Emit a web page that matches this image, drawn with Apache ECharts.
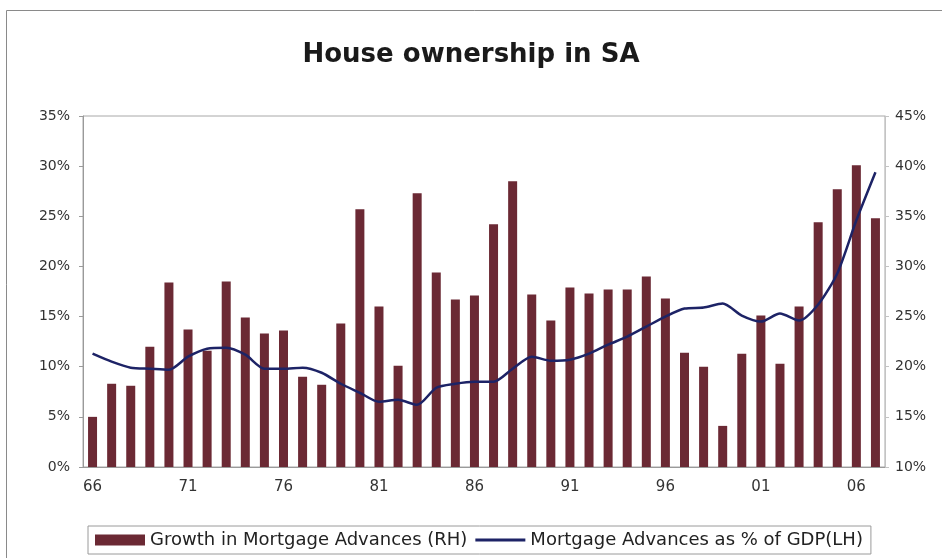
<!DOCTYPE html>
<html>
<head>
<meta charset="utf-8">
<title>House ownership in SA</title>
<script src="https://cdn.jsdelivr.net/npm/echarts@6/dist/echarts.min.js"></script>
<style>
  html, body { margin: 0; padding: 0; background: #fff; }
  #chart { width: 942px; height: 558px; }
</style>
</head>
<body>
<div id="chart"></div>
<script>
// Years 1966-2007, shown as two-digit labels
const years = ['66','67','68','69','70','71','72','73','74','75','76','77','78','79','80','81','82','83','84','85','86','87','88','89','90','91','92','93','94','95','96','97','98','99','00','01','02','03','04','05','06','07'];

// Annual growth in mortgage advances, %
const growthAdvances = [5.0, 8.3, 8.1, 12.0, 18.4, 13.7, 11.6, 18.5, 14.9, 13.3, 13.6, 9.0, 8.2, 14.3, 25.7, 16.0, 10.1, 27.3, 19.4, 16.7, 17.1, 24.2, 28.5, 17.2, 14.6, 17.9, 17.3, 17.7, 17.7, 19.0, 16.8, 11.4, 10.0, 4.1, 11.3, 15.1, 10.3, 16.0, 24.4, 27.7, 30.1, 24.8];

// Mortgage advances as a share of GDP, %
const advancesGdp = [21.3, 20.5, 19.9, 19.8, 19.7, 21.0, 21.8, 21.9, 21.2, 19.8, 19.8, 19.9, 19.4, 18.3, 17.4, 16.5, 16.7, 16.2, 17.9, 18.3, 18.5, 18.5, 19.8, 21.0, 20.6, 20.7, 21.3, 22.2, 23.0, 24.0, 25.0, 25.8, 25.9, 26.3, 25.1, 24.5, 25.3, 24.6, 26.2, 29.3, 34.6, 39.4];

const leftTicks = { min: 0, max: 35, step: 5 };
const rightTicks = { min: 10, max: 45, step: 5 };

const seriesNames = ['Growth in Mortgage Advances (RH)', 'Mortgage Advances as % of GDP(LH)'];

const chart = echarts.init(document.getElementById('chart'), null, { renderer: 'canvas' });

const FONT = 'DejaVu Sans, Liberation Sans, Arial, sans-serif';
const labelFont = { fontFamily: FONT, color: '#333' };

chart.setOption({
  animation: false,
  backgroundColor: '#fff',
  title: {
    text: 'House ownership in SA',
    left: 'center',
    top: 37,
    textStyle: { fontFamily: FONT, fontSize: 26, fontWeight: 'bold', color: '#1a1a1a' }
  },
  graphic: [
    {
      type: 'rect',
      shape: { x: 6.5, y: 10.5, width: 960, height: 560 },
      style: { fill: 'none', stroke: '#8a8a8a', lineWidth: 1 },
      silent: true
    }
  ],
  legend: {
    left: 88,
    top: 526,
    padding: [5, 8, 5, 7],
    borderColor: '#9a9a9a',
    borderWidth: 1,
    itemGap: 8,
    itemWidth: 50,
    itemHeight: 11,
    textStyle: { fontFamily: FONT, fontSize: 18, color: '#222' },
    data: [
      { name: seriesNames[0], icon: 'rect' },
      { name: seriesNames[1], icon: 'path://M0,0 L50,0 L50,3 L0,3 Z' }
    ]
  },
  grid: {
    left: 83,
    right: 57,
    top: 116,
    bottom: 91,
    show: true,
    borderColor: '#a8a8a8',
    borderWidth: 1,
    containLabel: false
  },
  xAxis: {
    type: 'category',
    data: years,
    boundaryGap: true,
    axisLine: { lineStyle: { color: '#9a9a9a' } },
    axisTick: { interval: 4, length: 4, lineStyle: { color: '#9a9a9a' } },
    axisLabel: Object.assign({ interval: 4, fontSize: 15, margin: 13 }, labelFont)
  },
  yAxis: [
    {
      type: 'value',
      min: leftTicks.min,
      max: leftTicks.max,
      interval: leftTicks.step,
      axisLine: { show: true, lineStyle: { color: '#9a9a9a' } },
      axisTick: { show: true, length: 4, lineStyle: { color: '#9a9a9a' } },
      splitLine: { show: false },
      axisLabel: Object.assign({ formatter: '{value}%', fontSize: 14, margin: 13 }, labelFont)
    },
    {
      type: 'value',
      min: rightTicks.min,
      max: rightTicks.max,
      interval: rightTicks.step,
      position: 'right',
      axisLine: { show: true, lineStyle: { color: '#c4c4c4' } },
      axisTick: { show: true, length: 4, lineStyle: { color: '#c4c4c4' } },
      splitLine: { show: false },
      axisLabel: Object.assign({ formatter: '{value}%', fontSize: 14, margin: 10 }, labelFont)
    }
  ],
  series: [
    {
      name: seriesNames[0],
      type: 'bar',
      yAxisIndex: 0,
      data: growthAdvances,
      barWidth: 9,
      itemStyle: { color: '#6b2934' }
    },
    {
      name: seriesNames[1],
      type: 'line',
      yAxisIndex: 1,
      data: advancesGdp,
      smooth: 0.25,
      symbol: 'none',
      lineStyle: { color: '#1d2366', width: 2.5 },
      itemStyle: { color: '#1d2366' },
      z: 5
    }
  ]
});
</script>
</body>
</html>
